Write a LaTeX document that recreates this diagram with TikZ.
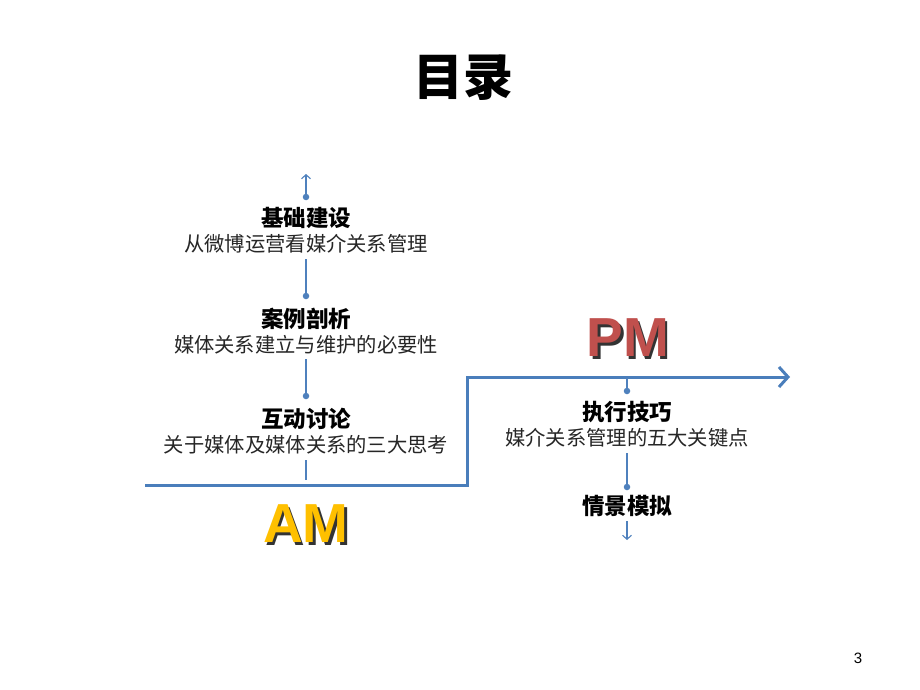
\documentclass[tikz,border=0pt]{standalone}
\usepackage{fontspec}
\setmainfont{Liberation Sans}
\newfontfamily\cjk{Noto Sans CJK SC}
\usetikzlibrary{arrows.meta}
\definecolor{lineblue}{HTML}{4A7EBB}
\definecolor{dotblue}{HTML}{4F81BD}
\definecolor{amyellow}{HTML}{FFC000}
\definecolor{pmred}{HTML}{C0504D}
\newcommand{\shadowtext}[2]{\makebox[0pt][l]{\kern2.5pt\raisebox{-2.5pt}{\color{black!80}#2}}{\color{#1}#2}}
\tikzset{
  thinline/.style={draw=dotblue, line width=1.1pt},
  thickline/.style={draw=lineblue, line width=3pt},
  dotnode/.style={circle, fill=dotblue, inner sep=0pt, minimum size=6.5pt},
  headtxt/.style={font=\cjk\fontsize{22.5}{26}\selectfont\bfseries, inner sep=0pt},
  subtxt/.style={font=\cjk\fontsize{20.3}{24}\selectfont, text=black!85, inner sep=0pt},
  bigtxt/.style={font=\fontsize{55}{60}\selectfont\bfseries, inner sep=0pt},
}
\begin{document}
\begin{tikzpicture}[x=1pt,y=-1pt]
\useasboundingbox[fill=white] (0,0) rectangle (920,690);
% title
\node[font=\cjk\fontsize{50}{56}\selectfont\bfseries, inner sep=0pt] (title) at (463,78) {目录};
% left column
\coordinate (ltop) at (306,174);
\node[dotnode] (d1) at (306,197) {};
\node[headtxt] (h1) at (306,218) {基础建设};
\node[subtxt] (s1) at (306,244) {从微博运营看媒介关系管理};
\node[dotnode] (d2) at (306,296) {};
\node[headtxt] (h2) at (306,319) {案例剖析};
\node[subtxt] (s2) at (306,345) {媒体关系建立与维护的必要性};
\node[dotnode] (d3) at (306,396) {};
\node[headtxt] (h3) at (306,419) {互动讨论};
\node[subtxt] (s3) at (306,445) {关于媒体及媒体关系的三大思考};
\coordinate (lbot) at (306,480);
\draw[thinline, -{Straight Barb[length=4pt,width=9pt]}] (d1) -- (ltop);
\draw[thinline] (306,259) -- (d2);
\draw[thinline] (306,359) -- (d3);
\draw[thinline] (306,460) -- (lbot);
% main timeline
\coordinate (m0) at (145,485);
\coordinate (m1) at (467,485);
\coordinate (m2) at (467,377);
\coordinate (m3) at (790,377);
\draw[thickline, -{Straight Barb[length=9pt,width=20pt,line width=3pt]}] (m0) -- (m1) -- (m2) -- (m3);
% AM / PM
\node[bigtxt] (am) at (306,525) {\shadowtext{amyellow}{AM}};
\node[bigtxt] (pm) at (628,339) {\shadowtext{pmred}{PM}};
% right column
\node[dotnode] (d4) at (627,391) {};
\node[headtxt] (h4) at (627,412) {执行技巧};
\node[subtxt] (s4) at (627,438) {媒介关系管理的五大关键点};
\node[dotnode] (d5) at (627,487) {};
\node[headtxt] (h5) at (627,506) {情景模拟};
\coordinate (rbot) at (627,540);
\draw[thinline] (627,378) -- (d4);
\draw[thinline] (627,453) -- (d5);
\draw[thinline, -{Straight Barb[length=4pt,width=9pt]}] (627,521) -- (rbot);
% page number
\node[font=\fontsize{15}{18}\selectfont, inner sep=0pt] (pg) at (858,658) {3};
\end{tikzpicture}
\end{document}
